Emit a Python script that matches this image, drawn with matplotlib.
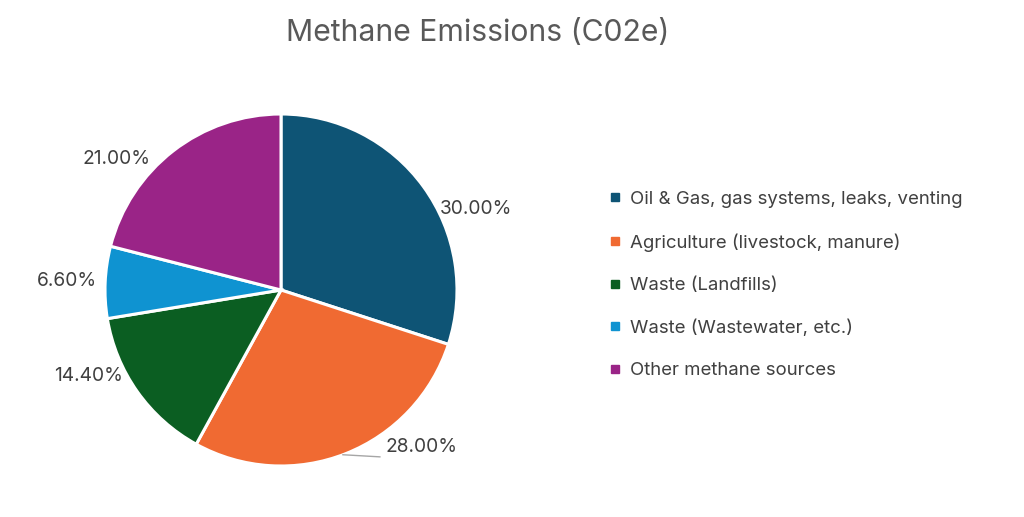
import matplotlib
matplotlib.use("Agg")
import matplotlib.pyplot as plt
import numpy as np
from matplotlib.lines import Line2D

categories = ["Oil & Gas, gas systems, leaks, venting",
              "Agriculture (livestock, manure)",
              "Waste (Landfills)",
              "Waste (Wastewater, etc.)",
              "Other methane sources"]
values = [30.0, 28.0, 14.4, 6.6, 21.0]
colors = ["#0E5475", "#F06A32", "#0B5E22", "#0F93D1", "#9A2487"]
label_texts = ["30.00%", "28.00%", "14.40%", "6.60%", "21.00%"]

plt.rcParams['font.family'] = ['Inter', 'DejaVu Sans']
txt = "#595959"

W, H = 1024, 517
fig = plt.figure(figsize=(W/100, H/100), dpi=100)
cx, cy, r = 281, 290, 176
ax = fig.add_axes([(cx - r)/W, 1 - (cy + r)/H, 2*r/W, 2*r/H])
wedges, _ = ax.pie(values, colors=colors, startangle=90, counterclock=False,
                   radius=1.0, wedgeprops=dict(edgecolor="white", linewidth=2.2))
ax.set_xlim(-1, 1); ax.set_ylim(-1, 1)
ax.set_aspect("equal")
ax.axis("off")

# label positions: mid-angle of each wedge with small tweaks (angle offset, radius)
tweaks = [(-9, 1.01), (12, 1.07), (-6.7, 1.02), (-0.3, 1.045), (7.2, 1.05)]
for w, t, (dang, rad) in zip(wedges, label_texts, tweaks):
    mid = (w.theta1 + w.theta2) / 2
    a = np.deg2rad(mid + dang)
    x, y = rad*np.cos(a), rad*np.sin(a)
    ha = "left" if x > 0 else "right"
    ax.text(x, y, t, ha=ha, va="center", fontsize=13.8, color="#404040", clip_on=False)

# leader line for 28%
w = wedges[1]
mid = np.deg2rad((w.theta1 + w.theta2) / 2 - 1)
ax.plot([np.cos(mid), np.cos(mid) + 0.21], [np.sin(mid), np.sin(mid) - 0.012],
        color="#A6A6A6", lw=1, clip_on=False)

fig.text(478/W, 1 - 33/H, "Methane Emissions (C02e)", ha="center", va="center",
         fontsize=21.7, color=txt)

handles = [Line2D([], [], marker="s", linestyle="none", markersize=6,
                  markerfacecolor=c, markeredgecolor=c) for c in colors]
leg = fig.legend(handles, categories, loc="center left",
                 bbox_to_anchor=(600/W, 1 - 285/H), frameon=False,
                 fontsize=13.4, labelspacing=1.36, handlelength=0.6,
                 handletextpad=0.5, borderpad=0)
for t in leg.get_texts():
    t.set_color("#404040")

fig.savefig("out.png", dpi=100, facecolor="white")
